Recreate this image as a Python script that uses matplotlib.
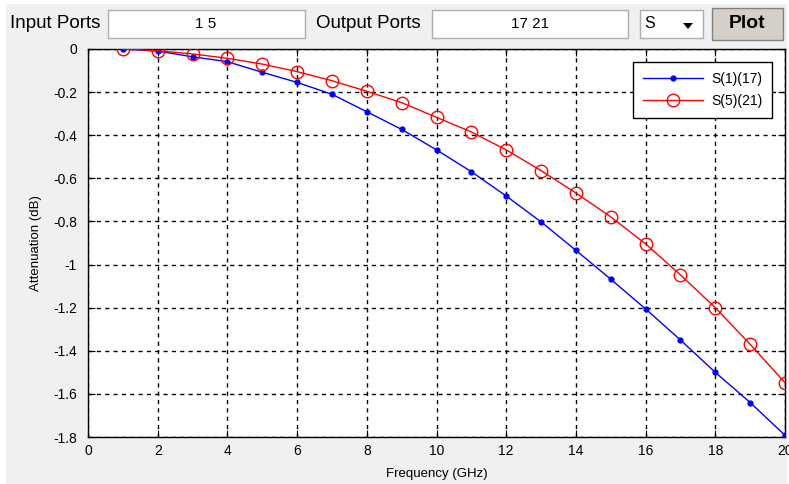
import matplotlib
matplotlib.use("Agg")
import matplotlib.pyplot as plt
import matplotlib.patches as mpatches

# data
freq = list(range(1, 21))
s_1_17 = [0.0, -0.01, -0.036, -0.059, -0.108, -0.155, -0.21, -0.291, -0.373, -0.468,
          -0.569, -0.682, -0.802, -0.934, -1.068, -1.206, -1.35, -1.5, -1.64, -1.792]
s_5_21 = [0.0, -0.008, -0.023, -0.043, -0.07, -0.105, -0.147, -0.196, -0.249, -0.317,
          -0.385, -0.468, -0.564, -0.668, -0.779, -0.904, -1.048, -1.2, -1.37, -1.548]
labels = ["S(1)(17)", "S(5)(21)"]
x_ticks = list(range(0, 21, 2))
y_ticks = [0, -0.2, -0.4, -0.6, -0.8, -1, -1.2, -1.4, -1.6, -1.8]
y_tick_labels = ["0", "-0.2", "-0.4", "-0.6", "-0.8", "-1", "-1.2", "-1.4", "-1.6", "-1.8"]

W, H = 789, 484
plt.rcParams['font.family'] = ['Liberation Sans', 'DejaVu Sans']

fig = plt.figure(figsize=(W / 100, H / 100), dpi=100)
fig.patch.set_facecolor("white")

def box(x0, y0, x1, y1, z=1, **kw):
    # rectangle in pixel coords (origin top-left)
    fig.patches.append(mpatches.Rectangle((x0 / W, 1 - y1 / H), (x1 - x0) / W, (y1 - y0) / H,
                                          transform=fig.transFigure, figure=fig, zorder=z, **kw))

def label(x, y, s, **kw):
    fig.text(x / W, 1 - y / H, s, transform=fig.transFigure, **kw)

# grey GUI panel, behind the axes
box(6, 4, 787, 484, z=-10, facecolor="#F0F0F0", edgecolor="none")

# top controls
label(10, 23, "Input Ports", fontsize=13.5, va="center", ha="left")
box(108, 10, 305, 38, facecolor="white", edgecolor="#ABADB3", lw=1)
label(206, 24, "1 5", fontsize=11, va="center", ha="center")
label(316, 23, "Output Ports", fontsize=13.5, va="center", ha="left")
box(432, 10, 628, 38, facecolor="white", edgecolor="#ABADB3", lw=1)
label(530, 24, "17 21", fontsize=11, va="center", ha="center")
box(640, 10, 703, 38, facecolor="white", edgecolor="#ABADB3", lw=1)
label(644, 24, "S", fontsize=11.5, va="center", ha="left")
fig.patches.append(mpatches.Polygon([(683 / W, 1 - 23 / H), (693 / W, 1 - 23 / H), (688 / W, 1 - 29 / H)],
                                    closed=True, transform=fig.transFigure, figure=fig,
                                    facecolor="black", edgecolor="none", zorder=2))
box(712, 8, 783, 40, facecolor="#D4D0C8", edgecolor="#808080", lw=1)
label(747, 23, "Plot", fontsize=14, fontweight="bold", va="center", ha="center")

ax = fig.add_axes([88 / W, 1 - 437 / H, (785 - 88) / W, (437 - 49) / H])
ax.set_facecolor("white")

ax.plot(freq, s_1_17, color="blue", lw=1, marker=".", markersize=7, label=labels[0], zorder=3)
ax.plot(freq, s_5_21, color="red", lw=1, marker="o", markersize=9, markerfacecolor="none",
        markeredgewidth=1, label=labels[1], zorder=3)

ax.set_xlim(0, 20)
ax.set_ylim(-1.8, 0)
ax.set_xticks(x_ticks)
ax.set_yticks(y_ticks)
ax.set_yticklabels(y_tick_labels)
ax.tick_params(direction="in", top=True, right=True, labelsize=10, length=5)
ax.tick_params(axis="y", pad=8)
ax.tick_params(axis="x", pad=5)
ax.grid(True, color="black", linestyle=(0, (3, 3)), lw=1)
for sp in ax.spines.values():
    sp.set_color("black")
    sp.set_linewidth(1)

ax.set_xlabel("Frequency (GHz)", fontsize=9.5, labelpad=7)
ax.set_ylabel("Attenuation (dB)", fontsize=9.5, labelpad=8)

leg = ax.legend(loc="upper right", bbox_to_anchor=(0.9813, 0.9665), borderaxespad=0,
                fontsize=10, fancybox=False, framealpha=1, edgecolor="black",
                borderpad=0.7, handlelength=4.3, labelspacing=0.6, handletextpad=0.6)
leg.get_frame().set_linewidth(1)

fig.savefig("out.png", dpi=100)
